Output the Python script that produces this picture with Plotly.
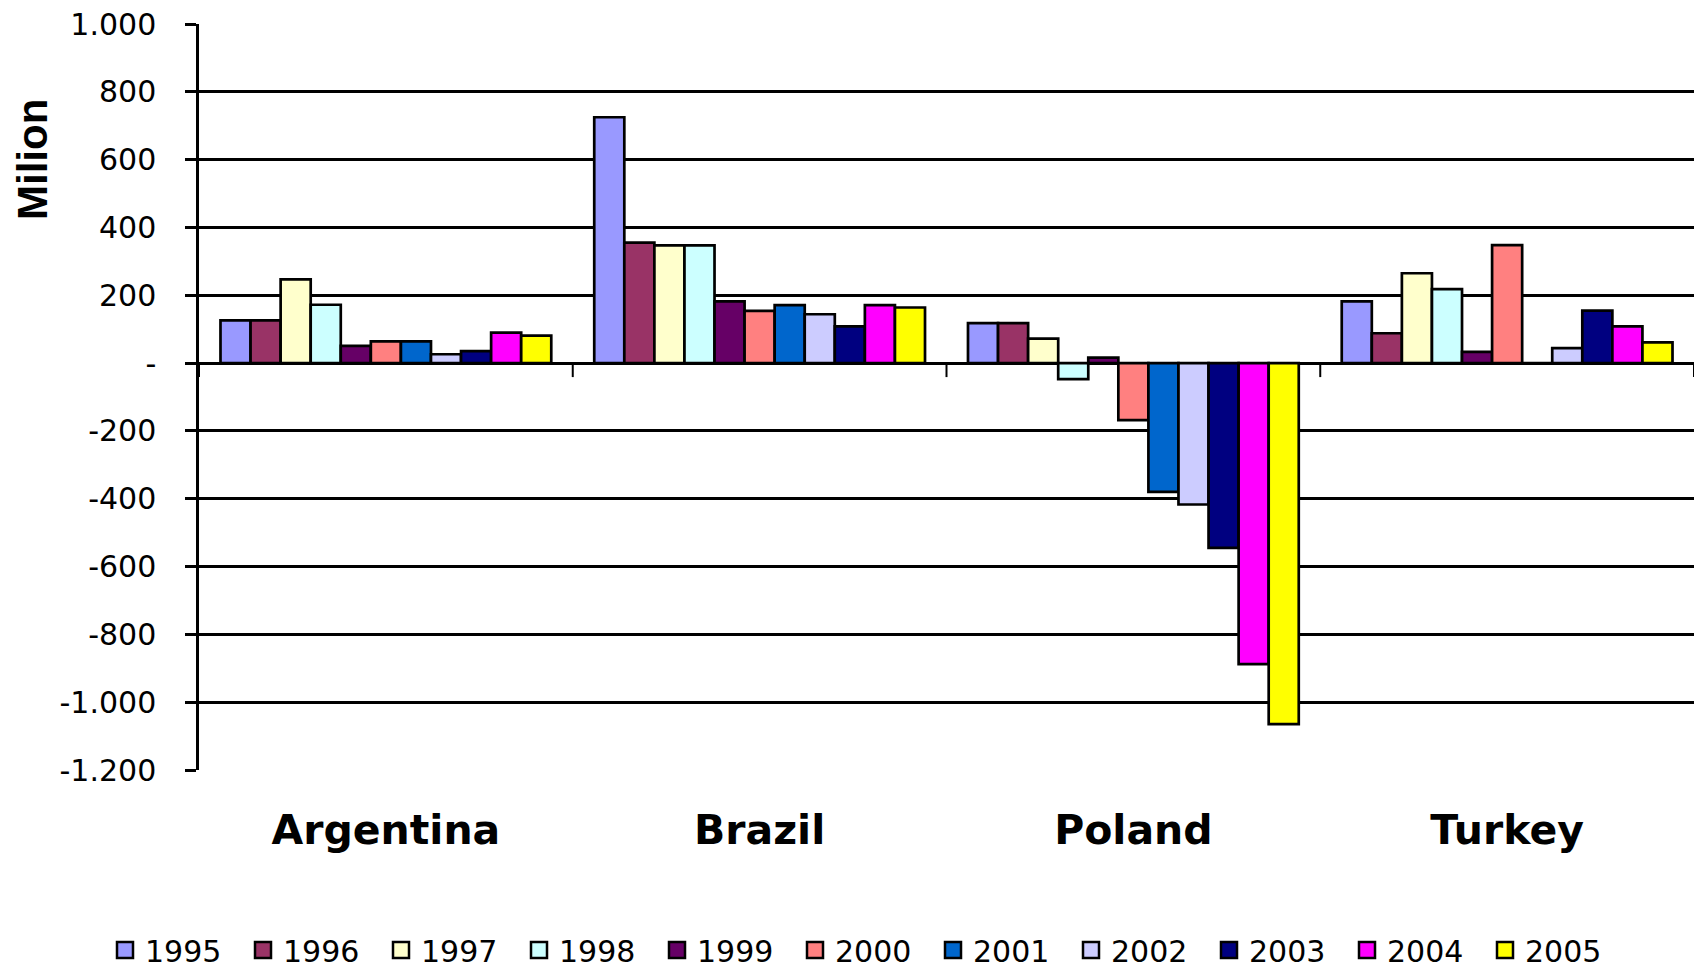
import plotly.graph_objects as go

countries = ["Argentina", "Brazil", "Poland", "Turkey"]
years = ["1995", "1996", "1997", "1998", "1999", "2000",
         "2001", "2002", "2003", "2004", "2005"]

# values in million, one list per year: Argentina, Brazil, Poland, Turkey
v1995 = [126, 725, 118, 182]
v1996 = [126, 355, 118, 88]
v1997 = [247, 347, 72, 265]
v1998 = [172, 347, -47, 218]
v1999 = [51, 182, 16, 33]
v2000 = [64, 154, -168, 348]
v2001 = [64, 171, -380, 0]
v2002 = [26, 144, -417, 44]
v2003 = [35, 108, -545, 155]
v2004 = [90, 171, -888, 108]
v2005 = [81, 164, -1065, 61]
series = [v1995, v1996, v1997, v1998, v1999, v2000,
          v2001, v2002, v2003, v2004, v2005]

colors = ["#9999FF", "#993366", "#FFFFCC", "#CCFFFF", "#660066", "#FF8080",
          "#0066CC", "#CCCCFF", "#000080", "#FF00FF", "#FFFF00"]

y_ticks = [1000, 800, 600, 400, 200, 0, -200, -400, -600, -800, -1000, -1200]
y_labels = ["1.000", "800", "600", "400", "200", "-", "-200", "-400",
            "-600", "-800", "-1.000", "-1.200"]

SANS = "DejaVu Sans, sans-serif"
ARIAL = "Liberation Sans, Arial, sans-serif"

fig = go.Figure()
for year, vals, col in zip(years, series, colors):
    fig.add_trace(go.Bar(
        x=countries, y=vals, name=year, legendgroup=year, showlegend=False,
        marker=dict(color=col, line=dict(color="black", width=2.7)),
    ))
# legend entries with larger square keys
for year, col in zip(years, colors):
    fig.add_trace(go.Scatter(
        x=[None], y=[None], mode="markers", name=year, legendgroup=year,
        marker=dict(symbol="square", size=16, color=col,
                    line=dict(color="black", width=2.5)),
    ))

# short tick marks on the zero line at the category boundaries
for i in range(len(countries) + 1):
    fig.add_shape(
        type="line", xref="x", yref="y", x0=i - 0.5, x1=i - 0.5,
        ysizemode="pixel", yanchor=0, y0=0, y1=-14,
        line=dict(color="black", width=2),
    )

fig.update_layout(
    width=1694, height=970,
    margin=dict(l=199, r=0, t=24, b=200, autoexpand=False),
    paper_bgcolor="white", plot_bgcolor="white",
    barmode="group", bargap=0.115, bargroupgap=0,
    font=dict(family=SANS, color="black"),
    showlegend=True,
    legend=dict(
        orientation="h", x=(105 - 199) / 1495, xanchor="left",
        y=(770 - 950) / 746, yanchor="middle",
        font=dict(family=SANS, size=30, color="black"),
        entrywidth=93, entrywidthmode="pixels",
        traceorder="normal",
    ),
    xaxis=dict(
        type="category", showgrid=False, showline=False, zeroline=False,
        ticks="", tickfont=dict(family=SANS, size=41, color="black", weight="bold"),
        ticklabelstandoff=32, range=[-0.5, 3.5],
    ),
    yaxis=dict(
        range=[-1200, 1000], tickvals=y_ticks, ticktext=y_labels,
        showgrid=True, gridcolor="black", gridwidth=2.5,
        zeroline=True, zerolinecolor="black", zerolinewidth=2.5,
        showline=True, linecolor="black", linewidth=2.5,
        ticks="outside", ticklen=11, tickwidth=2.5, tickcolor="black",
        tickfont=dict(family=SANS, size=30, color="black"),
        ticklabelstandoff=23,
    ),
)

fig.add_annotation(
    text="<b>Milion</b>", xref="paper", yref="paper",
    x=0, y=(770 - 160) / 746, xshift=-167,
    xanchor="center", yanchor="middle", textangle=-90, showarrow=False,
    font=dict(family=ARIAL, size=42, color="black"),
)

fig.write_html("out.html")
